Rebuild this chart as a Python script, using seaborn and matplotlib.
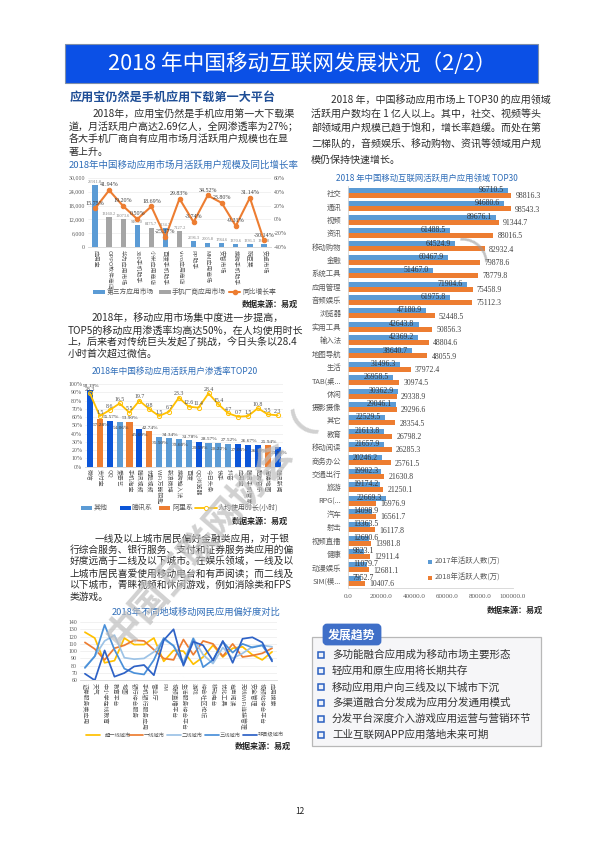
import matplotlib
matplotlib.use("Agg")
import matplotlib.pyplot as plt
from matplotlib.patches import Rectangle, FancyBboxPatch
import numpy as np
import pandas as pd
import seaborn as sns

# market chart
market_apps = ['应用宝', 'OPPO软件商店', '华为应用市场', '360手机助手', '小米应用商店', '百度手机助手', 'vivo应用商店',
               'PP助手', 'MM应用商场', '安智市场', '搜狗手机助手', '豌豆荚', '安卓市场']
market_users = [26911.8, 13160.2, 12073.6, 9403.0, 8475.7, 8134.7, 7127.2, 2596.3, 2005.8, 1784.6, 1370.6, 1336.3, 1314.0]
market_group = ['第三方应用市场', '手机厂商应用市场', '手机厂商应用市场', '第三方应用市场', '手机厂商应用市场', '第三方应用市场',
                '手机厂商应用市场', '第三方应用市场', '第三方应用市场', '第三方应用市场', '第三方应用市场', '第三方应用市场', '第三方应用市场']
market_growth = [15.75, 41.94, 19.20, 0.50, 18.69, -25.37, 29.83, -3.74, 34.52, 23.80, -9.31, 31.14, -30.14]

# penetration chart
top20_apps = ['微信', '支付宝', 'QQ', '爱奇艺', '手机淘宝', '腾讯视频', '优酷视频', 'WiFi万能钥匙', '新浪微博', '搜狗输入法',
              '百度', 'QQ浏览器', '今日头条', '快手', '抖音', '应用宝', '腾讯手机管家', '酷狗音乐', '高德地图', '腾讯新闻']
top20_rate = [93.19, 57.28, 55.57, 54.06, 53.90, 45.60, 42.74, 35.50, 34.34, 33.60,
              31.78, 29.59, 28.57, 28.22, 27.52, 27.05, 26.67, 26.50, 25.94, 23.98]
top20_group = ['腾讯系', '阿里系', '腾讯系', '其他', '阿里系', '腾讯系', '阿里系', '其他', '其他', '其他',
               '其他', '腾讯系', '其他', '其他', '其他', '腾讯系', '腾讯系', '腾讯系', '阿里系', '腾讯系']
top20_hours = [28.3, 1.5, 8.6, 16.5, 5.5, 19.7, 9.8, 1.5, 6.7, 23.3,
               12.6, 11.4, 28.4, 15.4, 4.7, 0.7, 1.5, 10.8, 3.5, 2.3]

# city preference chart
pref_apps = ['证券服务类应用', '天气', '中小学在线教育', '教育平台', '地图', '银行综合服务', '手机银行服务应用', '营业厅', 'FM',
             '视频直播平台', '生活服务综合平台', '游戏', '综合社区论坛', '移动电台', '优化工具', '有声阅读', '无线WiFi连接管理',
             '安全管理', '视频站综合平台', '应用搜索']
city_names = ['超一线城市', '一线城市', '二线城市', '三线城市', '非县级城市']
city_tier0 = [126, 118, 84, 87, 118, 109, 109, 118, 86, 101, 100, 82, 92, 108, 92, 104, 106, 95, 88, 99]
city_tier1 = [112, 103, 88, 104, 108, 115, 114, 102, 90, 88, 116, 95, 114, 110, 93, 110, 92, 94, 97, 104]
city_tier2 = [78, 93, 114, 122, 91, 89, 90, 99, 116, 108, 85, 118, 95, 83, 105, 90, 97, 106, 108, 106]
city_tier3 = [77, 93, 136, 102, 76, 70, 68, 88, 118, 107, 82, 117, 78, 88, 113, 98, 110, 105, 108, 88]
city_tier4 = [69, 60, 101, 65, 70, 79, 81, 67, 115, 130, 80, 113, 108, 87, 114, 84, 117, 119, 112, 86]

# top30 chart
top30_fields = ['社交', '通讯', '视频', '资讯', '移动购物', '金融', '系统工具', '应用管理', '音频娱乐', '浏览器',
                '实用工具', '输入法', '地图导航', '生活', 'TAB(桌...', '休闲', '摄影摄像', '其它', '教育', '移动阅读',
                '商务办公', '交通出行', '旅游', 'RPG(...', '汽车', '射击', '视频直播', '健康', '动漫娱乐', 'SIM(模...']
users_2017 = [96710.5, 94680.6, 89676.1, 61488.5, 64524.9, 60467.9, 51467.0, 71904.6, 61975.8, 47180.9,
              42643.8, 42369.2, 38640.7, 31496.3, 26958.5, 30362.9, 29046.1, 22529.5, 21613.8, 21657.9,
              20246.2, 19902.3, 19174.2, 22669.3, 14098.9, 13363.5, 12690.6, 9823.1, 11079.7, 7952.7]
users_2018 = [98816.3, 98543.3, 91344.7, 88016.5, 82932.4, 79878.6, 78779.8, 75458.9, 75112.3, 52448.5,
              50856.3, 48804.6, 48055.9, 37972.4, 30974.5, 29338.9, 29296.6, 28354.5, 26798.2, 26285.3,
              25761.5, 21630.8, 21250.1, 16976.9, 16561.7, 16117.8, 13981.8, 12911.4, 12681.1, 10407.6]

trend_items = ['多功能融合应用成为移动市场主要形态', '轻应用和原生应用将长期共存', '移动应用用户向三线及以下城市下沉',
               '多渠道融合分发成为应用分发通用模式', '分发平台深度介入游戏应用运营与营销环节', '工业互联网APP应用落地未来可期']

BLUE, GREY, ORANGE = '#5B9BD5', '#A5A5A5', '#ED7D31'
DARK_BLUE, YELLOW = '#0B55D8', '#FFC000'
TICK_COLOR = '#595959'
SERIF = 'Liberation Serif'

sns.set_theme(style='white')
plt.rcParams['font.family'] = ['Noto Sans CJK SC', 'DejaVu Sans']
plt.rcParams['axes.unicode_minus'] = False

W, H = 600, 848
fig = plt.figure(figsize=(W / 100, H / 100), dpi=100, facecolor='white')

page = fig.add_axes([0, 0, 1, 1], zorder=10, facecolor='none')
page.set_xlim(0, W)
page.set_ylim(H, 0)
page.axis('off')


def axes_at(left, top, right, bottom):
    return fig.add_axes([left / W, 1 - bottom / H, (right - left) / W, (bottom - top) / H])


def put(x, y, s, size=7.2, color='#2b2b2b', **kw):
    kw.setdefault('va', 'center')
    page.text(x, y, s, fontsize=size, color=color, **kw)


def swatch(x0, x1, y, color, h=4):
    page.add_patch(Rectangle((x0, y - h / 2), x1 - x0, h, color=color, lw=0))


def clean_axes(ax, grid=True):
    for side in ['top', 'left', 'right']:
        ax.spines[side].set_visible(False)
    ax.spines['bottom'].set_color('#d4d4d4')
    ax.spines['bottom'].set_linewidth(0.6)
    ax.set_xlabel('')
    ax.set_ylabel('')
    ax.tick_params(length=0, pad=2, labelsize=4.2, labelcolor=TICK_COLOR)
    ax.grid(grid, axis='y', color='#ececec', lw=0.5)
    ax.set_axisbelow(True)


# banner and headings
page.add_patch(Rectangle((65, 44), 473, 39, facecolor='#0B50E6', edgecolor='#7f8fa8', lw=0.8))
put(302, 63.5, '2018 年中国移动互联网发展状况（2/2）', size=15.6, color='white', ha='center')
put(70, 97, '应用宝仍然是手机应用下载第一大平台', size=8.7, color='#1F4E96', weight='bold')

block_1 = [(93, 114, '2018年，应用宝仍然是手机应用第一大下载渠'),
           (69, 127, '道，月活跃用户高达2.69亿人，全网渗透率为27%；'),
           (69, 140, '各大手机厂商自有应用市场月活跃用户规模也在显'),
           (69, 152, '著上升。')]
block_2 = [(92, 318, '2018年，移动应用市场集中度进一步提高，'),
           (68, 331, 'TOP5的移动应用渗透率均高达50%，在人均使用时长'),
           (68, 343, '上，后来者对传统巨头发起了挑战，今日头条以28.4'),
           (68, 354, '小时首次超过微信。')]
block_3 = [(95, 539, '一线及以上城市居民偏好金融类应用，对于银'),
           (70, 550, '行综合服务、银行服务、支付和证券服务类应用的偏'),
           (70, 561, '好度远高于二线及以下城市。在娱乐领域，一线及以'),
           (70, 573, '上城市居民喜爱使用移动电台和有声阅读；而二线及'),
           (70, 585, '以下城市，青睐视频和休闲游戏，例如消除类和FPS'),
           (70, 597, '类游戏。')]
block_4 = [(331, 100, '2018 年，中国移动应用市场上 TOP30 的应用领域'),
           (311, 114, '活跃用户数均在 1 亿人以上。其中，社交、视频等头'),
           (311, 129, '部领域用户规模已趋于饱和，增长率趋缓。而处在第'),
           (311, 145, '二梯队的，音频娱乐、移动购物、资讯等领域用户规'),
           (311, 160, '模仍保持快速增长。')]
for x, y, line in block_1 + block_2 + block_4:
    put(x, y, line, size=7.2)
for x, y, line in block_3:
    put(x, y, line, size=7.0)

TITLE_BLUE = '#2F6DB8'
put(69, 165, '2018年中国移动应用市场月活跃用户规模及同比增长率', size=6.8, color=TITLE_BLUE)
put(175, 371, '2018年中国移动应用活跃用户渗透率TOP20', size=6.2, color=TITLE_BLUE, ha='center')
put(196, 612, '2018年不同地域移动网民应用偏好度对比', size=6.7, color=TITLE_BLUE, ha='center')
put(427, 178, '2018 年中国移动互联网活跃用户应用领域 TOP30', size=6.0, color=TITLE_BLUE, ha='center')
for x, y in [(242, 304), (232, 521), (235, 746), (487, 610)]:
    put(x, y, '数据来源：易观', size=5.8, color='#222222', weight='bold')
put(300, 811, '12', size=6, color='#222222', ha='center')

# chart 1
df_market = pd.DataFrame({'app': market_apps, 'users': market_users, 'group': market_group})
ax1 = axes_at(88, 177.7, 271, 247.3)
sns.barplot(data=df_market, x='app', y='users', hue='group', dodge=False, order=market_apps, width=0.38,
            palette={'第三方应用市场': BLUE, '手机厂商应用市场': GREY}, saturation=1, linewidth=0, legend=False, ax=ax1)
clean_axes(ax1)
ax1.set_xlim(-0.5, len(market_apps) - 0.5)
ax1.set_ylim(0, 30000)
ax1.set_yticks(range(0, 30001, 6000))
ax1.set_yticklabels([f'{v:,}' for v in range(0, 30001, 6000)], fontfamily=SERIF)
ax1.tick_params(axis='x', labelrotation=270, labelsize=4.2)
for i, v in enumerate(market_users):
    ax1.text(i, v + 500, f'{v:.1f}', ha='center', va='bottom', fontsize=3.2, color='#7f7f7f', fontfamily=SERIF)
ax1b = ax1.twinx()
sns.lineplot(x=np.arange(len(market_growth)), y=market_growth, color=ORANGE, lw=1.5, marker='o', ms=3.2,
             mec=ORANGE, ax=ax1b)
ax1b.set_ylim(-40, 60)
ax1b.set_yticks(range(-40, 61, 20))
ax1b.set_yticklabels([f'{v}%' for v in range(-40, 61, 20)], fontfamily=SERIF)
ax1b.tick_params(length=0, pad=2, labelsize=4.2, labelcolor=TICK_COLOR)
for side in ['top', 'left', 'right', 'bottom']:
    ax1b.spines[side].set_visible(False)
for i, v in enumerate(market_growth):
    ax1b.text(i, v + 4, f'{v:.2f}%', ha='center', va='bottom', fontsize=4.3, color='#404040', fontfamily=SERIF)
swatch(93, 105, 292, BLUE)
put(107, 292, '第三方应用市场', size=4.9, color=TICK_COLOR)
swatch(159, 171, 292, GREY)
put(172, 292, '手机厂商应用市场', size=4.9, color=TICK_COLOR)
page.plot([229, 240], [292, 292], '-', color=ORANGE, lw=1.5)
page.plot([234.5], [292], 'o', color=ORANGE, ms=3)
put(242, 292, '同比增长率', size=4.9, color=TICK_COLOR)

# chart 2
df_top20 = pd.DataFrame({'app': top20_apps, 'rate': top20_rate, 'group': top20_group})
ax2 = axes_at(85, 384, 282.6, 466.7)
sns.barplot(data=df_top20, x='app', y='rate', hue='group', dodge=False, order=top20_apps, width=0.62,
            palette={'其他': BLUE, '腾讯系': DARK_BLUE, '阿里系': ORANGE}, saturation=1, linewidth=0, legend=False, ax=ax2)
clean_axes(ax2, grid=False)
ax2.set_xlim(-0.5, len(top20_apps) - 0.5)
ax2.set_ylim(0, 100)
ax2.set_yticks(range(0, 101, 10))
ax2.set_yticklabels([f'{v}%' for v in range(0, 101, 10)], fontfamily=SERIF)
ax2.tick_params(axis='x', labelrotation=270, labelsize=4.2)
for i, v in enumerate(top20_rate):
    # labels alternate above the bar and down inside it
    if i % 2 == 0:
        ax2.text(i + 0.1, v + 2, f'{v:.2f}%', ha='center', va='bottom', fontsize=3.9, color='#404040', fontfamily=SERIF)
    else:
        ax2.text(i + 0.1, v - 7, f'{v:.2f}%', ha='center', va='center', fontsize=3.9, color='#404040', fontfamily=SERIF)
ax2b = ax2.twinx()
sns.lineplot(x=np.arange(len(top20_hours)), y=top20_hours, color=YELLOW, lw=1.3, marker='o', ms=3,
             mfc='none', mec=YELLOW, mew=0.7, ax=ax2b)
ax2b.set_ylim(-58.6, 39.5)
ax2b.axis('off')
for i, v in enumerate(top20_hours):
    ax2b.text(i, v + 1.5, f'{v:.1f}', ha='center', va='bottom', fontsize=4.2, color='#505050', fontfamily=SERIF)
swatch(81, 92, 508, BLUE)
put(94, 508, '其他', size=5, color=TICK_COLOR)
swatch(120, 131, 508, DARK_BLUE)
put(132, 508, '腾讯系', size=5, color=TICK_COLOR)
swatch(159, 170, 508, ORANGE)
put(172, 508, '阿里系', size=5, color=TICK_COLOR)
page.plot([195, 217], [508, 508], '-', color=YELLOW, lw=1.3)
page.plot([206], [508], 'o', mfc='white', mec=YELLOW, ms=3, mew=0.7)
put(218, 508, '人均使用时长(小时)', size=5, color=TICK_COLOR)

# chart 3
df_city = pd.DataFrame({'app': pref_apps, city_names[0]: city_tier0, city_names[1]: city_tier1, city_names[2]: city_tier2,
                        city_names[3]: city_tier3, city_names[4]: city_tier4})
df_city['pos'] = np.arange(len(pref_apps))
df_city_long = df_city.melt(id_vars=['app', 'pos'], value_vars=city_names, var_name='city', value_name='index')
city_colors = dict(zip(city_names, [YELLOW, ORANGE, '#9DC3E6', '#4A90D9', '#2E62C6']))
ax3 = axes_at(80, 622, 277, 680.3)
sns.lineplot(data=df_city_long, x='pos', y='index', hue='city', hue_order=city_names, palette=city_colors, lw=1.25,
             legend=False, ax=ax3)
clean_axes(ax3)
ax3.set_xlim(-0.5, len(pref_apps) - 0.5)
ax3.set_ylim(60, 140)
ax3.set_yticks(range(60, 141, 10))
ax3.set_xticks(np.arange(len(pref_apps)))
ax3.set_xticklabels(pref_apps, rotation=270, fontsize=4.2)
ax3.set_yticklabels(range(60, 141, 10), fontfamily=SERIF)
legend_x = [(86, 100, 105), (129, 143, 144), (167, 181, 182), (205, 219, 220), (243, 257, 258)]
for (x0, x1, tx), name in zip(legend_x, city_names):
    page.plot([x0, x1], [735, 735], '-', color=city_colors[name], lw=1.25)
    put(tx, 735, name, size=3.8, color=TICK_COLOR)

# chart 4
df_top30 = pd.DataFrame({'field': top30_fields, '2017': users_2017, '2018': users_2018})
df_top30_long = df_top30.melt(id_vars='field', var_name='year', value_name='users')
ax4 = axes_at(348.3, 186.3, 513, 587.5)
sns.barplot(data=df_top30_long, y='field', x='users', hue='year', order=top30_fields, orient='h', width=0.75,
            palette={'2017': BLUE, '2018': ORANGE}, saturation=1, linewidth=0, legend=False, ax=ax4)
for side in ['top', 'right']:
    ax4.spines[side].set_visible(False)
for side in ['left', 'bottom']:
    ax4.spines[side].set_color('#d4d4d4')
    ax4.spines[side].set_linewidth(0.6)
ax4.set_xlabel('')
ax4.set_ylabel('')
ax4.set_xlim(0, 100000)
ax4.set_ylim(len(top30_fields) - 0.5, -0.5)
ax4.set_xticks(range(0, 100001, 20000))
ax4.set_xticklabels([f'{v:.1f}' for v in range(0, 100001, 20000)], fontfamily=SERIF)
ax4.tick_params(axis='x', length=0, pad=5, labelsize=5, labelcolor=TICK_COLOR)
ax4.tick_params(axis='y', length=0, pad=5, labelsize=5.3, labelcolor=TICK_COLOR)
for i, (a, b) in enumerate(zip(users_2017, users_2018)):
    # short 2017 labels stay at the axis and run past the bar end
    if a < 20300:
        ax4.text(2800, i - 0.22, f'{a:.1f}', ha='left', va='center', fontsize=5.6, color='#333333', fontfamily=SERIF)
    else:
        ax4.text(a - 2500, i - 0.22, f'{a:.1f}', ha='right', va='center', fontsize=5.6, color='#333333', fontfamily=SERIF)
    ax4.text(b + 2600, i + 0.24, f'{b:.1f}', ha='left', va='center', fontsize=5.6, color='#404040', fontfamily=SERIF)
swatch(428, 432, 562, BLUE, h=4)
put(435, 562, '2017年活跃人数(万)', size=5.3, color=TICK_COLOR)
swatch(428, 432, 578, ORANGE, h=4)
put(435, 578, '2018年活跃人数(万)', size=5.3, color=TICK_COLOR)

# trend box
page.add_patch(Rectangle((312, 637), 229, 109, facecolor='#F6F6F8', edgecolor='#B8B8B8', lw=0.9))
page.add_patch(FancyBboxPatch((324, 625), 56, 19, boxstyle='round,pad=0,rounding_size=3', facecolor='#3F6FC8',
                              edgecolor='#3F6FC8', lw=2))
put(352, 634.5, '发展趋势', size=8.6, color='white', ha='center', weight='bold')
for i, item in enumerate(trend_items):
    y = 655 + i * 16
    page.add_patch(Rectangle((318, y - 3), 6, 6, facecolor='#EEF2FA', edgecolor='#2A5FC0', lw=1.1))
    put(332, y, item, size=7.6, color='#333333')

# watermark
page.text(212, 530, '中国互联网协会（', fontsize=27, color='#bdbdbd', alpha=0.7, weight='bold', rotation=49,
          rotation_mode='anchor', ha='center', va='center')
page.text(486, 240, '）', fontsize=27, color='#9a9a9a', alpha=0.6, rotation=49, rotation_mode='anchor',
          ha='center', va='center')

fig.savefig('out.png', dpi=100)
